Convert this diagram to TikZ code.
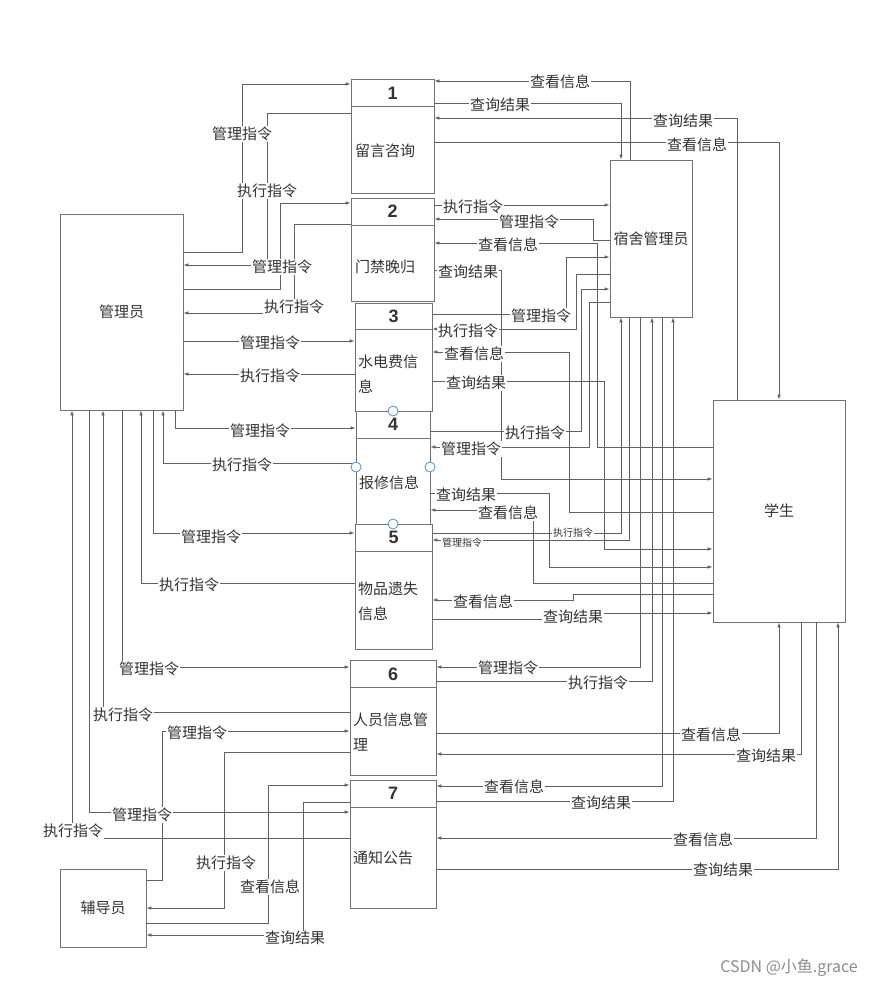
\documentclass[tikz,border=0pt]{standalone}
\usepackage{fontspec}
\setmainfont{Noto Sans CJK SC}
\newfontfamily\numfont{Liberation Sans}
\usetikzlibrary{arrows.meta}

\begin{document}
\begin{tikzpicture}[x=1pt,y=-1pt,
  box/.style={draw=black!55,line width=0.8pt,inner sep=0pt,text=black!80,font=\fontsize{15}{15}\selectfont},
  flow/.style={draw=black!62,line width=0.7pt,-{Latex[length=5pt,width=3.6pt]}},
  lbl/.style={fill=white,inner sep=0.6pt,text=black!80,font=\fontsize{15}{15}\selectfont},
  slbl/.style={lbl,font=\fontsize{10}{10}\selectfont},
  num/.style={inner sep=0pt,text=black!80,font=\numfont\bfseries\fontsize{18}{18}\selectfont},
  txt/.style={inner sep=0pt,anchor=west,align=left,text=black!80,font=\fontsize{15}{25}\selectfont},
  divline/.style={draw=black!55,line width=0.8pt}]
\useasboundingbox (0,0) rectangle (873,987);

% external entities
\node[box,minimum width=123pt,minimum height=196pt] (adm) at (121.5,312) {管理员};
\node[box,minimum width=82pt,minimum height=157pt] (dorm) at (651,238.5) {宿舍管理员};
\node[box,minimum width=132pt,minimum height=222pt] (stu) at (779,511) {学生};
\node[box,minimum width=86pt,minimum height=78pt] (fdy) at (103,908) {辅导员};

% processes
\node[box,minimum width=83pt,minimum height=114pt] (p1) at (392.5,136) {};
\draw[divline] (p1.west |- 0,106) -- (p1.east |- 0,106);
\node[num] (n1) at (392.5,93) {1};
\node[txt] (t1) at (355,151) {留言咨询};

\node[box,minimum width=83pt,minimum height=103pt] (p2) at (392.5,249.5) {};
\draw[divline] (p2.west |- 0,225) -- (p2.east |- 0,225);
\node[num] (n2) at (392.5,211) {2};
\node[txt] (t2) at (355,267) {门禁晚归};

\node[box,minimum width=77pt,minimum height=108pt] (p3) at (393.5,357) {};
\draw[divline] (p3.west |- 0,329) -- (p3.east |- 0,329);
\node[num] (n3) at (393.5,316) {3};
\node[txt] (t3) at (358,374) {水电费信\\息};

\node[box,minimum width=74pt,minimum height=113pt] (p4) at (393,467.5) {};
\draw[divline] (p4.west |- 0,438) -- (p4.east |- 0,438);
\node[num] (n4) at (393,424) {4};
\node[txt] (t4) at (359,483) {报修信息};

\node[box,minimum width=77pt,minimum height=125pt] (p5) at (393.5,586.5) {};
\draw[divline] (p5.west |- 0,551) -- (p5.east |- 0,551);
\node[num] (n5) at (393.5,537) {5};
\node[txt] (t5) at (358,601) {物品遗失\\信息};

\node[box,minimum width=86pt,minimum height=115pt] (p6) at (393,717.5) {};
\draw[divline] (p6.west |- 0,687) -- (p6.east |- 0,687);
\node[num] (n6) at (393,674) {6};
\node[txt] (t6) at (353,732) {人员信息管\\理};

\node[box,minimum width=86pt,minimum height=128pt] (p7) at (393,844) {};
\draw[divline] (p7.west |- 0,807) -- (p7.east |- 0,807);
\node[num] (n7) at (393,793) {7};
\node[txt] (t7) at (353,858) {通知公告};

% 管理员 <-> processes
\draw[flow] (adm.east |- 0,252) -- (242,252) -- (242,84) -- (p1.west |- 0,84);
\draw[flow] (p1.west |- 0,113) -- (267,113) -- (267,265) -- (adm.east |- 0,265);
\draw[flow] (adm.east |- 0,289) -- (280,289) -- (280,203) -- (p2.west |- 0,203);
\draw[flow] (p2.west |- 0,224) -- (294,224) -- (294,313) -- (adm.east |- 0,313);
\draw[flow] (adm.east |- 0,341) -- (p3.west |- 0,341);
\draw[flow] (p3.west |- 0,374) -- (adm.east |- 0,374);
\draw[flow] (adm.south -| 175,0) -- (175,428) -- (p4.west |- 0,428);
\draw[flow] (p4.west |- 0,463) -- (163,463) -- (adm.south -| 163,0);
\draw[flow] (adm.south -| 153,0) -- (153,533) -- (p5.west |- 0,533);
\draw[flow] (p5.west |- 0,583) -- (141,583) -- (adm.south -| 141,0);
\draw[flow] (adm.south -| 122,0) -- (122,667) -- (p6.west |- 0,667);
\draw[flow] (p6.west |- 0,712) -- (103,712) -- (adm.south -| 103,0);
\draw[flow] (adm.south -| 89,0) -- (89,812) -- (p7.west |- 0,812);
\draw[flow] (p7.west |- 0,838) -- (72,838) -- (adm.south -| 72,0);

% 辅导员 <-> processes
\draw[flow] (fdy.east |- 0,880) -- (162,880) -- (162,731) -- (p6.west |- 0,731);
\draw[flow] (p6.west |- 0,752) -- (224,752) -- (224,908) -- (fdy.east |- 0,908);
\draw[flow] (fdy.east |- 0,923) -- (268,923) -- (268,785) -- (p7.west |- 0,785);
\draw[flow] (p7.west |- 0,802) -- (303,802) -- (303,935) -- (fdy.east |- 0,935);

% processes <-> 宿舍管理员 / 学生
\draw[flow] (dorm.north -| 630,0) -- (630,81) -- (p1.east |- 0,81);
\draw[flow] (p1.east |- 0,103) -- (621,103) -- (dorm.north -| 621,0);
\draw[flow] (stu.north -| 737,0) -- (737,118) -- (p1.east |- 0,118);
\draw[flow] (p1.east |- 0,142) -- (779,142) -- (stu.north -| 779,0);

\draw[flow] (p2.east |- 0,205) -- (dorm.west |- 0,205);
\draw[flow] (dorm.west |- 0,240) -- (593,240) -- (593,219) -- (p2.east |- 0,219);
\draw[flow] (stu.west |- 0,447) -- (597,447) -- (597,243) -- (p2.east |- 0,243);
\draw[flow] (p2.east |- 0,270) -- (501,270) -- (501,479) -- (stu.west |- 0,479);

\draw[flow] (p3.east |- 0,314) -- (566,314) -- (566,257) -- (dorm.west |- 0,257);
\draw[flow] (dorm.west |- 0,274) -- (576,274) -- (576,329) -- (p3.east |- 0,329);
\draw[flow] (stu.west |- 0,512) -- (569,512) -- (569,352) -- (p3.east |- 0,352);
\draw[flow] (p3.east |- 0,381) -- (604,381) -- (604,549) -- (stu.west |- 0,549);

\draw[flow] (p4.east |- 0,431) -- (581,431) -- (581,289) -- (dorm.west |- 0,289);
\draw[flow] (dorm.west |- 0,302) -- (589,302) -- (589,447) -- (p4.east |- 0,447);
\draw[flow] (p4.east |- 0,493) -- (549,493) -- (549,567) -- (stu.west |- 0,567);
\draw[flow] (stu.west |- 0,583) -- (533,583) -- (533,510) -- (p4.east |- 0,510);

\draw[flow] (p5.east |- 0,533) -- (621,533) -- (dorm.south -| 621,0);
\draw[flow] (dorm.south -| 629,0) -- (629,540) -- (p5.east |- 0,540);
\draw[flow] (stu.west |- 0,594) -- (573,594) -- (573,600) -- (p5.east |- 0,600);
\draw[flow] (p5.east |- 0,619) -- (573,619) -- (573,613) -- (stu.west |- 0,613);

\draw[flow] (dorm.south -| 640,0) -- (640,667) -- (p6.east |- 0,667);
\draw[flow] (p6.east |- 0,681) -- (652,681) -- (dorm.south -| 652,0);
\draw[flow] (p6.east |- 0,733) -- (779,733) -- (stu.south -| 779,0);
\draw[flow] (stu.south -| 801,0) -- (801,754) -- (p6.east |- 0,754);

\draw[flow] (dorm.south -| 662,0) -- (662,786) -- (p7.east |- 0,786);
\draw[flow] (p7.east |- 0,801) -- (673,801) -- (dorm.south -| 673,0);
\draw[flow] (stu.south -| 816,0) -- (816,838) -- (p7.east |- 0,838);
\draw[flow] (p7.east |- 0,869) -- (838,869) -- (stu.south -| 838,0);

% labels
\node[lbl] (l1) at (242,134) {管理指令};
\node[lbl] (l2) at (267,191) {执行指令};
\node[lbl] (l3) at (282,267) {管理指令};
\node[lbl] (l4) at (294,307) {执行指令};
\node[lbl] (l5) at (270,343) {管理指令};
\node[lbl] (l6) at (270,376) {执行指令};
\node[lbl] (l7) at (260,431) {管理指令};
\node[lbl] (l8) at (242,465) {执行指令};
\node[lbl] (l9) at (211,537) {管理指令};
\node[lbl] (l10) at (189,585) {执行指令};
\node[lbl] (l11) at (149,669) {管理指令};
\node[lbl] (l12) at (123,715) {执行指令};
\node[lbl] (l13) at (142,815) {管理指令};
\node[lbl] (l14) at (73,831) {执行指令};
\node[lbl] (l15) at (197,733) {管理指令};
\node[lbl] (l16) at (226,863) {执行指令};
\node[lbl] (l17) at (270,887) {查看信息};
\node[lbl] (l18) at (295,938) {查询结果};
\node[lbl] (l19) at (560,82) {查看信息};
\node[lbl] (l20) at (500,105) {查询结果};
\node[lbl] (l21) at (683,121) {查询结果};
\node[lbl] (l22) at (697,145) {查看信息};
\node[lbl] (l23) at (473,207) {执行指令};
\node[lbl] (l24) at (529,222) {管理指令};
\node[lbl] (l25) at (508,245) {查看信息};
\node[lbl] (l26) at (468,272) {查询结果};
\node[lbl] (l27) at (541,316) {管理指令};
\node[lbl] (l28) at (468,331) {执行指令};
\node[lbl] (l29) at (474,354) {查看信息};
\node[lbl] (l30) at (476,383) {查询结果};
\node[lbl] (l31) at (535,433) {执行指令};
\node[lbl] (l32) at (471,449) {管理指令};
\node[lbl] (l33) at (466,495) {查询结果};
\node[lbl] (l34) at (508,513) {查看信息};
\node[slbl] (l35) at (573,533) {执行指令};
\node[slbl] (l36) at (462,543) {管理指令};
\node[lbl] (l37) at (483,602) {查看信息};
\node[lbl] (l38) at (573,617) {查询结果};
\node[lbl] (l39) at (508,668) {管理指令};
\node[lbl] (l40) at (598,683) {执行指令};
\node[lbl] (l41) at (711,735) {查看信息};
\node[lbl] (l42) at (766,756) {查询结果};
\node[lbl] (l43) at (514,787) {查看信息};
\node[lbl] (l44) at (601,803) {查询结果};
\node[lbl] (l45) at (703,840) {查看信息};
\node[lbl] (l46) at (723,870) {查询结果};

% selection handles on box 4
\foreach \x/\y in {393/411,356/467,430/467,393/524}
  \draw[draw={rgb,255:red,74;green,144;blue,226},fill=white,line width=0.8pt] (\x,\y) circle[radius=5pt];

\node[anchor=east,inner sep=0pt,text=black!45,font=\fontsize{16}{16}\selectfont] (wm) at (858,968) {CSDN @小鱼.grace};
\end{tikzpicture}
\end{document}
